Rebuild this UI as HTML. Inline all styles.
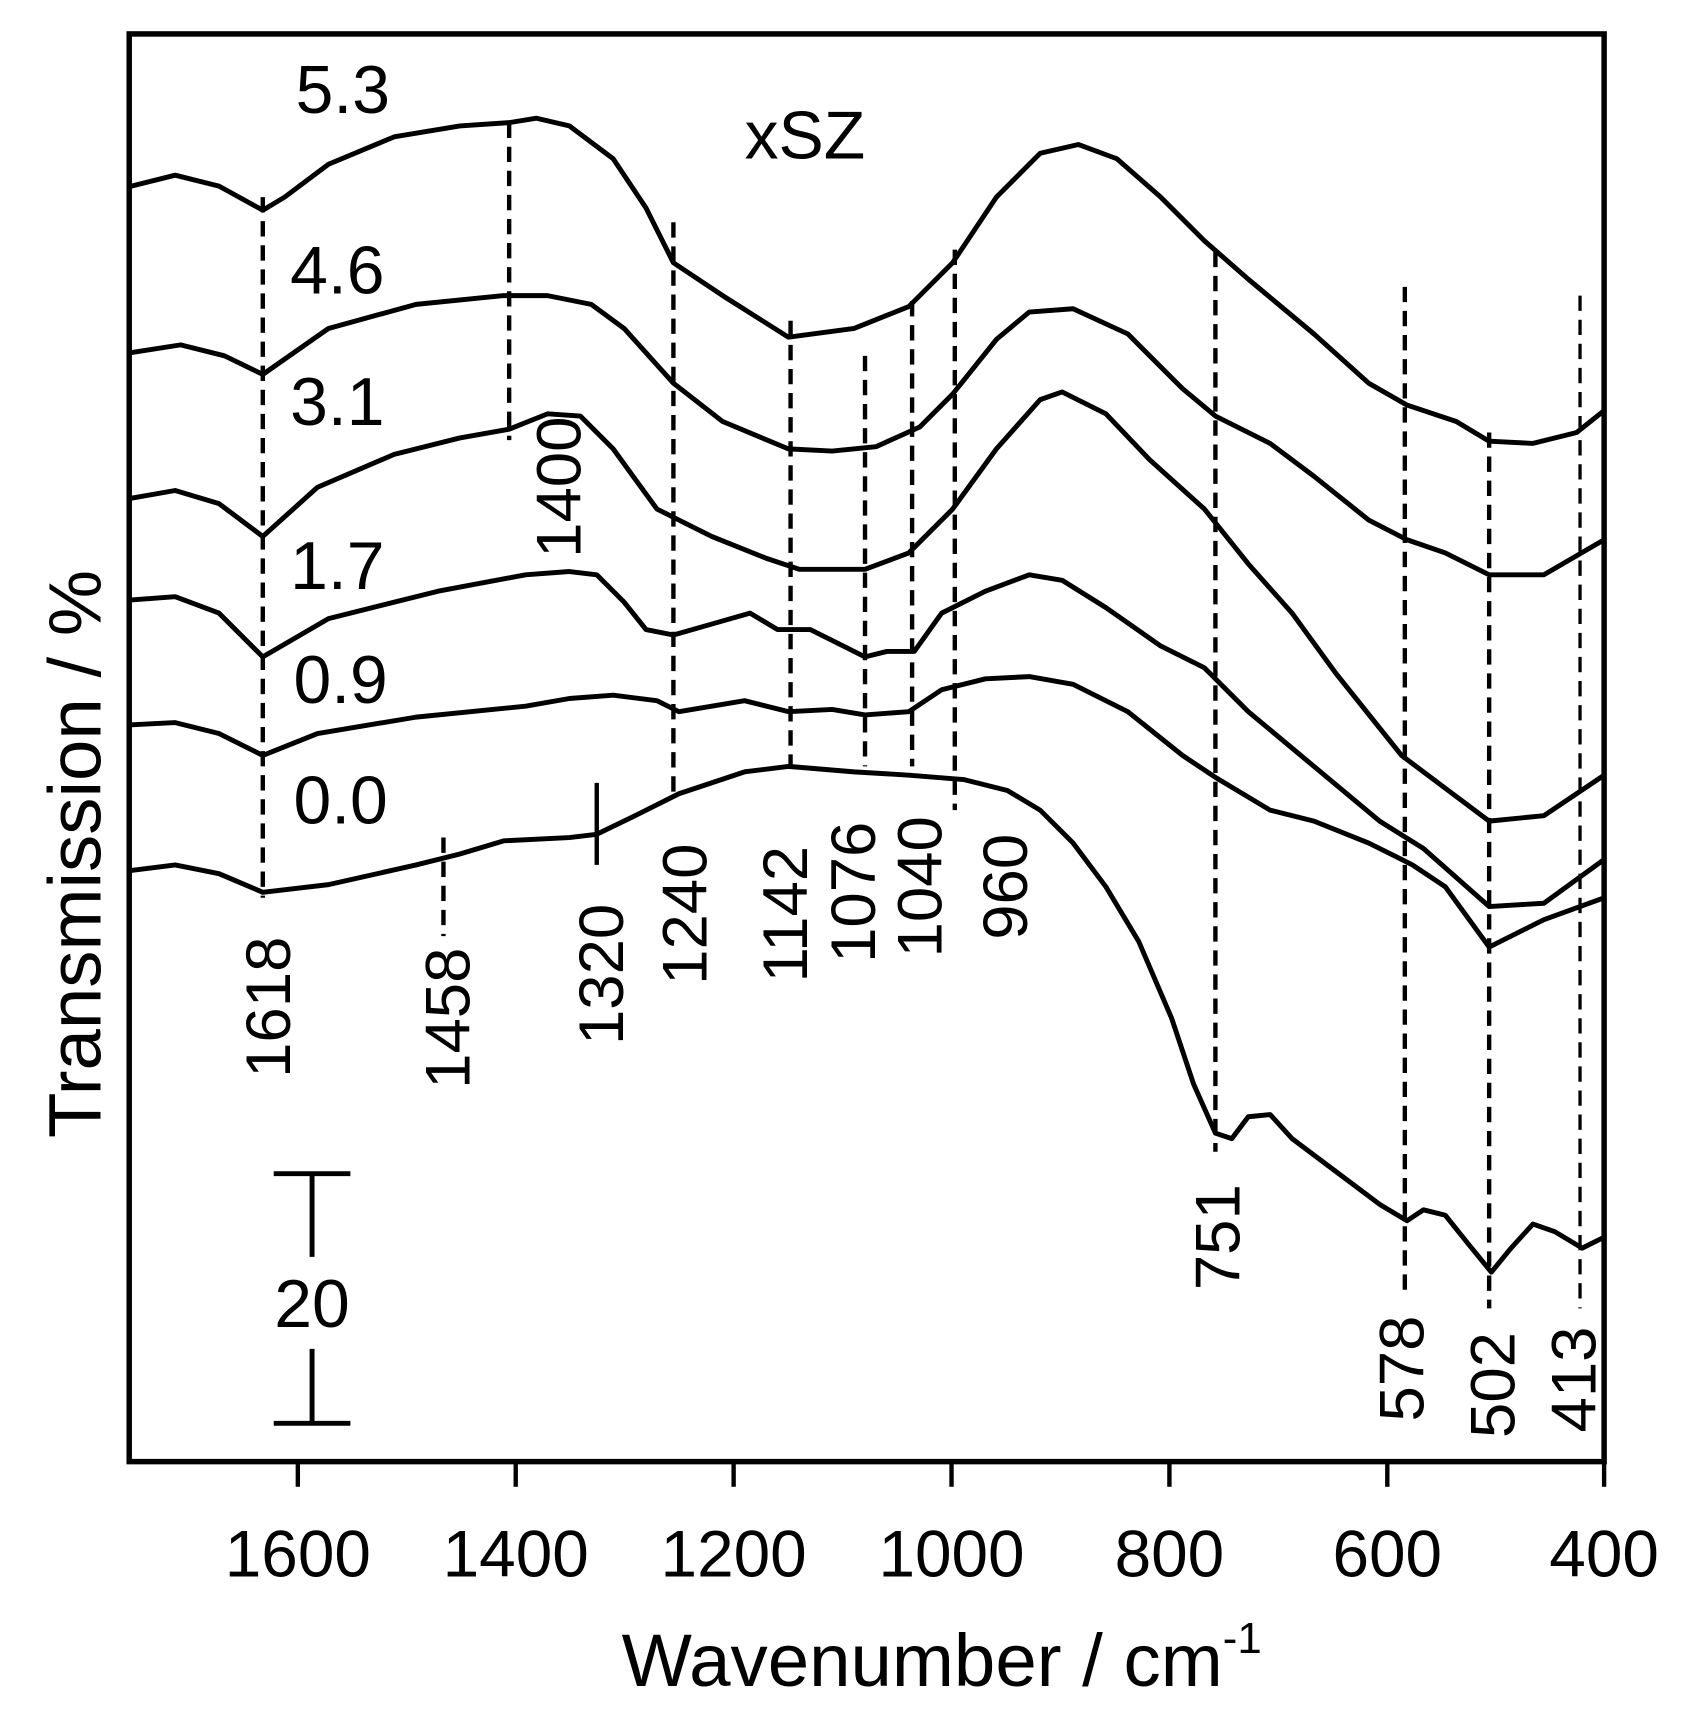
<!DOCTYPE html>
<html><head><meta charset="utf-8"><style>
html,body{margin:0;padding:0;background:#fff;}
svg{display:block;}
text{font-family:"Liberation Sans",Arial,sans-serif;fill:#000;}
</style></head><body>
<svg width="1695" height="1720" viewBox="0 0 1548 1571" preserveAspectRatio="none" xmlns="http://www.w3.org/2000/svg">
<rect x="118" y="31" width="1347" height="1304" fill="none" stroke="#000" stroke-width="5"/>
<g stroke="#000" stroke-width="4">
<line x1="272" y1="1335" x2="272" y2="1358"/><line x1="471" y1="1335" x2="471" y2="1358"/><line x1="670" y1="1335" x2="670" y2="1358"/><line x1="869" y1="1335" x2="869" y2="1358"/><line x1="1068" y1="1335" x2="1068" y2="1358"/><line x1="1267" y1="1335" x2="1267" y2="1358"/><line x1="1465" y1="1335" x2="1465" y2="1358"/>
</g>
<g font-size="60" text-anchor="middle">
<text x="272" y="1440">1600</text><text x="471" y="1440">1400</text><text x="670" y="1440">1200</text><text x="869" y="1440">1000</text><text x="1068" y="1440">800</text><text x="1267" y="1440">600</text><text x="1465" y="1440">400</text>
</g>
<text x="860" y="1540" font-size="68" text-anchor="middle">Wavenumber / cm<tspan font-size="40" dy="-30">-1</tspan></text>
<text transform="translate(92,780) rotate(-90)" font-size="68" text-anchor="middle">Transmission / %</text>

<g fill="none" stroke="#000" stroke-width="4.5" stroke-linejoin="round">
<polyline points="120,170 160,160 200,170 240,192 260,180 300,150 360,125 420,115 465,112 490,108 520,115 560,145 590,190 615,240 660,270 720,308 780,300 830,280 870,240 910,180 950,140 985,132 1020,145 1060,180 1100,220 1140,255 1170,280 1200,305 1250,350 1285,370 1330,385 1360,403 1400,405 1440,395 1465,375"/>
<polyline points="120,322 165,315 205,325 240,342 300,300 380,278 460,270 500,270 540,278 570,300 615,350 660,385 720,410 760,412 800,408 840,390 870,360 910,310 940,285 980,282 1030,305 1080,355 1110,380 1160,405 1200,435 1250,475 1285,493 1320,505 1360,525 1410,525 1465,493"/>
<polyline points="120,455 160,448 200,460 240,490 290,445 360,415 420,400 465,392 500,378 530,380 560,410 600,465 650,490 700,510 730,520 790,520 830,505 870,465 910,410 950,365 970,358 1010,378 1050,420 1100,465 1140,515 1180,560 1220,615 1280,690 1320,720 1360,750 1410,745 1465,708"/>
<polyline points="120,548 160,545 200,560 240,600 300,565 400,540 480,525 520,522 545,525 570,550 590,575 615,580 650,570 685,560 710,575 740,575 770,590 790,600 810,595 835,595 860,560 900,540 940,525 970,530 1010,555 1060,590 1100,610 1140,650 1200,700 1260,750 1300,775 1360,828 1410,825 1465,785"/>
<polyline points="120,662 160,660 200,670 240,690 290,670 380,655 480,645 520,638 560,635 600,640 620,650 680,640 720,650 760,648 790,653 830,650 860,630 900,620 940,618 980,625 1030,650 1080,690 1110,710 1160,740 1200,750 1250,770 1290,790 1320,810 1360,865 1410,840 1465,820"/>
<polyline points="120,795 160,790 200,798 240,815 300,808 380,790 420,780 460,768 520,765 545,762 580,745 620,725 680,705 720,700 780,705 830,708 880,712 920,722 950,740 980,770 1010,810 1040,860 1070,930 1090,990 1110,1035 1125,1040 1140,1020 1160,1018 1180,1040 1220,1070 1260,1100 1285,1115 1300,1105 1320,1110 1340,1135 1362,1162 1380,1140 1400,1118 1420,1125 1445,1140 1465,1130"/>
</g>

<g stroke="#000" stroke-width="4" stroke-dasharray="14,8">
<line x1="240" y1="180" x2="240" y2="820"/>
<line x1="465" y1="112" x2="465" y2="402"/>
<line x1="405" y1="765" x2="405" y2="855"/>
<line x1="615" y1="203" x2="615" y2="730"/>
<line x1="722" y1="293" x2="722" y2="700"/>
<line x1="790" y1="325" x2="790" y2="700"/>
<line x1="833" y1="275" x2="833" y2="700"/>
<line x1="872" y1="228" x2="872" y2="740"/>
<line x1="1110" y1="230" x2="1110" y2="1052"/>
<line x1="1283" y1="262" x2="1283" y2="1180"/>
<line x1="1360" y1="395" x2="1360" y2="1195"/>
<line x1="1443" y1="270" x2="1443" y2="1195" stroke-width="3"/>
</g>
<line x1="545" y1="715" x2="545" y2="790" stroke="#000" stroke-width="4"/>

<g font-size="58" text-anchor="middle">
<text transform="translate(265,920) rotate(-90)">1618</text>
<text transform="translate(429,930) rotate(-90)">1458</text>
<text transform="translate(569,890) rotate(-90)">1320</text>
<text transform="translate(645,835) rotate(-90)">1240</text>
<text transform="translate(737,835) rotate(-90)">1142</text>
<text transform="translate(799,815) rotate(-90)">1076</text>
<text transform="translate(860,810) rotate(-90)">1040</text>
<text transform="translate(938,810) rotate(-90)">960</text>
<text transform="translate(1132,1130) rotate(-90)">751</text>
<text transform="translate(1300,1250) rotate(-90)">578</text>
<text transform="translate(1383,1265) rotate(-90)">502</text>
<text transform="translate(1457,1260) rotate(-90)">413</text>
<text transform="translate(530,445) rotate(-90)" font-family="Liberation Serif, serif">1400</text>
</g>

<g font-size="62">
<text x="270" y="103">5.3</text>
<text x="265" y="268">4.6</text>
<text x="265" y="388">3.1</text>
<text x="265" y="538">1.7</text>
<text x="268" y="642">0.9</text>
<text x="268" y="752">0.0</text>
<text x="680" y="145">xSZ</text>
<text x="285" y="1212" text-anchor="middle">20</text>
</g>

<g stroke="#000" stroke-width="4.5">
<line x1="285" y1="1072" x2="285" y2="1148"/>
<line x1="285" y1="1232" x2="285" y2="1300"/>
<line x1="250" y1="1072" x2="320" y2="1072"/>
<line x1="250" y1="1300" x2="320" y2="1300"/>
</g>
</svg>
</body></html>
